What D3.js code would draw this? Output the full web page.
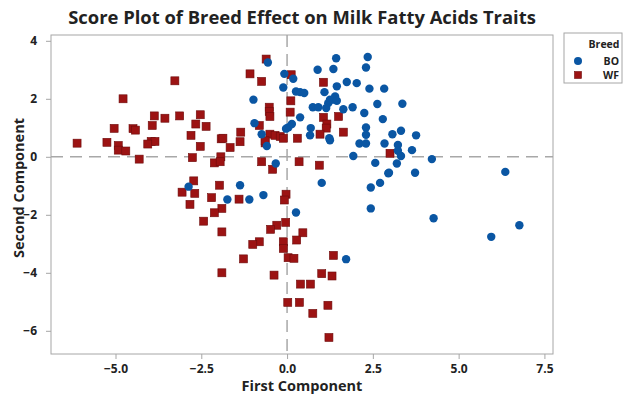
<!DOCTYPE html>
<html>
<head>
<meta charset="utf-8">
<script src="https://cdn.jsdelivr.net/npm/d3@7"></script>
<style>
  html, body { margin: 0; padding: 0; background: #fff; }
  svg { display: block; font-family: "Open Sans", "Noto Sans", sans-serif; }
</style>
</head>
<body>
<svg id="chart" width="625" height="399"></svg>
<script>
// ---- Data ----
const xTicks = [-5, -2.5, 0, 2.5, 5, 7.5];
const yTicks = [4, 2, 0, -2, -4, -6];
const groups = ["BO", "WF"];

const boX = [-2.87,-1.74,-1.37,-1.10,-0.69,0.26,1.72,1.01,2.44,2.71,2.44,-0.33,-0.59,1.93,2.57,2.95,2.11,2.30,2.84,1.25,
  -0.56,-0.08,0.18,-0.11,0.26,0.38,0.50,0.89,1.43,1.35,2.35,2.30,1.09,1.45,1.74,2.03,2.40,2.83,-0.98,1.40,
  1.35,1.25,1.45,1.20,0.75,0.91,1.14,1.64,1.91,2.63,2.25,0.38,2.79,-0.95,0.14,0.04,-0.03,0.69,2.30,-0.74,
  0.67,1.23,2.30,3.36,3.07,3.32,3.76,3.23,3.23,3.32,3.64,3.20,2.97,3.73,4.22,6.36,4.27,5.95,6.77];
const boY = [-1.03,-1.47,-0.98,-1.47,-1.32,-1.92,-3.53,-0.90,-1.06,-0.90,-1.78,-0.23,0.37,0.03,-0.21,-0.57,0.46,0.46,0.46,0.57,
  3.25,2.86,2.69,2.39,2.25,2.23,2.20,3.00,3.40,3.03,3.44,3.08,2.23,2.43,2.58,2.54,2.35,2.35,1.97,2.08,
  1.97,1.97,1.93,1.85,1.71,1.71,1.68,1.64,1.71,1.82,1.51,1.36,1.30,1.16,1.13,1.02,0.97,0.99,1.01,0.78,
  0.74,0.64,0.76,1.83,0.78,0.90,0.74,0.41,0.21,0.03,0.23,-0.23,-0.55,-0.55,-0.08,-0.52,-2.12,-2.76,-2.36];

const wfX = [-6.12,-3.27,-4.78,-3.87,-3.56,-3.13,-2.53,-2.66,-2.36,-3.93,-4.49,-4.42,-5.04,-2.80,-1.92,-5.25,-4.92,-3.96,-3.85,-4.06,
  -2.53,-4.92,-4.70,-4.31,-2.76,-1.93,-2.12,-1.95,-2.72,-3.06,-2.69,-2.83,-1.97,-2.20,-1.90,-2.12,-2.43,-1.90,-1.66,-1.37,
  -0.64,-0.74,-0.42,0.35,0.94,-1.40,-0.03,-0.08,-0.04,-0.30,-0.48,0.46,0.28,-0.81,-1.00,-0.11,-0.11,-1.27,0.03,0.20,
  1.35,-1.90,-0.38,1.01,1.31,0.39,0.68,0.02,0.36,1.19,0.75,1.22,-0.61,-1.08,-0.74,0.12,1.06,0.11,-0.52,-0.52,
  -0.50,0.09,1.06,1.50,-0.81,1.16,1.14,1.64,-1.35,-1.87,-0.50,-0.35,-0.20,-0.11,-0.64,0.30,0.96,3.00];
const wfY = [0.47,2.62,2.00,1.41,1.33,1.41,1.45,1.13,1.05,1.08,0.97,0.92,0.98,0.74,0.62,0.50,0.39,0.53,0.53,0.44,
  0.36,0.23,0.20,-0.08,-0.03,0.00,-0.21,-0.17,-0.83,-1.22,-1.26,-1.64,-0.98,-1.41,-1.78,-1.93,-2.22,-2.59,0.32,0.52,
  0.48,-0.17,-0.43,-0.17,-0.29,-1.46,-1.29,-1.49,-2.26,-2.36,-2.50,-2.62,-2.87,-2.93,-3.02,-2.93,-3.16,-3.52,-3.48,-3.50,
  -3.40,-4.00,-4.08,-4.03,-4.11,-4.39,-4.39,-5.02,-5.02,-5.12,-5.40,-6.23,3.37,2.86,2.60,2.83,2.57,1.93,1.71,1.56,
  1.39,1.54,1.36,1.39,1.08,1.13,0.99,0.85,0.85,0.64,0.78,0.74,0.70,0.64,0.55,0.64,0.78,0.12];

// ---- Layout ----
const svg = d3.select("#chart");
const L = 51, R = 553, T = 35, B = 354;
const x = d3.scaleLinear().domain([-6.88, 7.75]).range([L, R]);
const y = d3.scaleLinear().domain([-6.8, 4.2]).range([B, T]);
const cx = (L + R) / 2;

const BLUE = "#0a56a3", RED = "#9c1313", FRAME = "#a6a6a6";

// title
svg.append("text").attr("x", cx).attr("y", 24).attr("text-anchor", "middle")
  .attr("font-size", 18.4).attr("font-weight", "bold").attr("fill", "#222")
  .text("Score Plot of Breed Effect on Milk Fatty Acids Traits");

// reference lines
svg.append("line").attr("x1", x(0)).attr("x2", x(0)).attr("y1", T).attr("y2", B)
  .attr("stroke", "#a8a8a8").attr("stroke-width", 1.5).attr("stroke-dasharray", "12,7");
svg.append("line").attr("x1", L).attr("x2", R).attr("y1", y(0)).attr("y2", y(0))
  .attr("stroke", "#a8a8a8").attr("stroke-width", 1.5).attr("stroke-dasharray", "12,7");

// axes
const xAxis = d3.axisBottom(x).tickValues(xTicks).tickFormat(d3.format(".1f")).tickSize(5).tickPadding(5);
const yAxis = d3.axisLeft(y).tickValues(yTicks).tickFormat(d3.format("d")).tickSize(5).tickPadding(9);
const gx = svg.append("g").attr("transform", `translate(0,${B})`).call(xAxis);
const gy = svg.append("g").attr("transform", `translate(${L},0)`).call(yAxis);
[gx, gy].forEach(g => {
  g.select(".domain").remove();
  g.selectAll(".tick line").attr("stroke", FRAME);
  g.selectAll(".tick text").attr("font-size", 12).attr("font-weight", "bold").attr("fill", "#222")
    .attr("font-family", "'Open Sans', sans-serif");
});

// frame
svg.append("rect").attr("x", L).attr("y", T).attr("width", R - L).attr("height", B - T)
  .attr("fill", "none").attr("stroke", FRAME).attr("stroke-width", 1);

// axis titles
svg.append("text").attr("x", cx).attr("y", 391).attr("text-anchor", "middle")
  .attr("font-size", 14.5).attr("font-weight", "bold").attr("fill", "#222").text("First Component");
svg.append("text").attr("transform", `translate(24,188) rotate(-90)`).attr("text-anchor", "middle")
  .attr("font-size", 14.5).attr("font-weight", "bold").attr("fill", "#222").text("Second Component");

// points
const sym = 8;
const bo = boX.map((v, i) => ({ x: v, y: boY[i] }));
const wf = wfX.map((v, i) => ({ x: v, y: wfY[i] }));
svg.append("g").selectAll("rect").data(wf).join("rect")
  .attr("x", d => x(d.x) - sym / 2).attr("y", d => y(d.y) - sym / 2)
  .attr("width", sym).attr("height", sym)
  .attr("fill", RED).attr("stroke", "#6e0c0c").attr("stroke-width", 0.6);
svg.append("g").selectAll("circle").data(bo).join("circle")
  .attr("cx", d => x(d.x)).attr("cy", d => y(d.y)).attr("r", 4.2)
  .attr("fill", BLUE);

// legend
const lg = svg.append("g");
lg.append("rect").attr("x", 564).attr("y", 33).attr("width", 58).attr("height", 50)
  .attr("fill", "#fff").attr("stroke", FRAME);
lg.append("text").attr("x", 604).attr("y", 48).attr("text-anchor", "middle")
  .attr("font-size", 10.5).attr("font-weight", "bold").attr("fill", "#222").text("Breed");
groups.forEach((g, i) => {
  const ly = 61 + i * 14;
  if (g === "BO") {
    lg.append("circle").attr("cx", 578).attr("cy", ly).attr("r", 4).attr("fill", BLUE);
  } else {
    lg.append("rect").attr("x", 578 - 3.5).attr("y", ly - 3.5).attr("width", 7).attr("height", 7)
      .attr("fill", RED).attr("stroke", "#6e0c0c").attr("stroke-width", 0.6);
  }
  lg.append("text").attr("x", 619).attr("y", ly + 4).attr("text-anchor", "end")
    .attr("font-size", 10.5).attr("font-weight", "bold").attr("fill", "#222").text(g);
});
</script>
</body>
</html>
